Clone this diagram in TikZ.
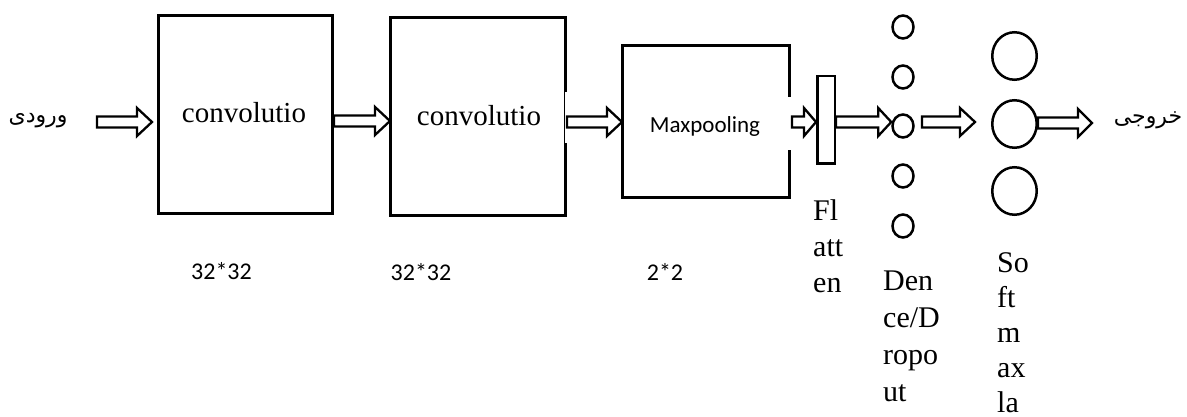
\documentclass[tikz,border=0pt]{standalone}
\usepackage{fontspec}
\usetikzlibrary{calc,shapes.geometric}
\TeXXeTstate=1
\newfontfamily\seriffont{Liberation Serif}
\newfontfamily\calibrifont{Carlito}
\newfontfamily\arabicfont[Script=Arabic]{DejaVu Sans}

% hollow block arrow between two named points (drawn at the height of the first)
\newcommand\blockarrow[3][15pt]{%
  \draw[blockarr] let \p1=(#2), \p2=(#3) in
    (\x1,\y1+5.5pt) -- (\x2-#1,\y1+5.5pt) -- (\x2-#1,\y1+14pt) -- (\x2,\y1)
    -- (\x2-#1,\y1-14pt) -- (\x2-#1,\y1-5.5pt) -- (\x1,\y1-5.5pt) -- cycle;}

\tikzset{
  layerbox/.style={draw, line width=3pt, fill=white, inner sep=0pt},
  neuron/.style={draw, ellipse, line width=2.5pt, inner sep=0pt},
  blockarr/.style={draw, line width=2.3pt, fill=white, line join=miter},
  convlbl/.style={font=\seriffont\fontsize{29}{34}\selectfont, anchor=base, inner sep=0pt},
  sizelbl/.style={font=\calibrifont\fontsize{24}{28}\selectfont, anchor=base, inner sep=0pt},
  vlbl/.style={font=\seriffont\fontsize{30}{36}\selectfont, anchor=base west, inner sep=0pt},
  arlbl/.style={font=\arabicfont\fontsize{22}{26}\selectfont, inner sep=0pt},
}

\begin{document}
\begin{tikzpicture}[x=1pt, y=-1pt]
\useasboundingbox (0,0) rectangle (1187,417);

% layers
\node[layerbox, minimum width=174pt, minimum height=198pt] (conv1) at (245.5,114.5) {};
\node[layerbox, minimum width=175pt, minimum height=198pt] (conv2) at (478,116.5) {};
\node[layerbox, minimum width=167pt, minimum height=152pt] (pool) at (706,121.5) {};
\node[layerbox, line width=2.5pt, minimum width=17.5pt, minimum height=87.5pt] (flat) at (826,120) {};

% dense / dropout neurons
\foreach \yy [count=\i] in {27,77,126,176,226}
  \node[neuron, minimum width=21pt, minimum height=23pt] (d\i) at (903,\yy) {};

% softmax neurons
\foreach \yy [count=\i] in {56,124,191}
  \node[neuron, minimum width=44.5pt, minimum height=47.5pt] (s\i) at (1014.5,\yy) {};

% texts inside the layers
\node[convlbl] (c1txt) at (244,123) {convolutio};
\node[convlbl] (c2txt) at (479,126) {convolutio};
\node[font=\calibrifont\fontsize{23}{28}\selectfont, anchor=base, inner sep=0pt] (ptxt) at (705,133) {Maxpooling};

% sizes under the layers
\node[sizelbl] (sz1) at (221.5,279) {32*32};
\node[sizelbl] (sz2) at (421,280) {32*32};
\node[sizelbl] (sz3) at (665,280) {2*2};

% stacked layer names
\foreach \t [count=\i] in {Fl,att,en}
  \node[vlbl] (fl\i) at (813,{220+36*(\i-1)}) {\t};
\foreach \t [count=\i] in {Den,ce/D,ropo,ut}
  \node[vlbl] (dn\i) at (883,{290+37*(\i-1)}) {\t};
\foreach \t [count=\i] in {So,ft,m,ax,la}
  \node[vlbl] (sm\i) at (997,{272+35*(\i-1)}) {\t};

% input and output
\node[arlbl] (inp) at (38,121) {\beginR ورودی\endR};
\node[arlbl] (outp) at (1148,120) {\beginR خروجی\endR};

% arrow end points
\coordinate (a0s) at (97,122);
\coordinate (a0e) at (152,122);
\coordinate (a1s) at (conv1.east |- 0,121);
\coordinate (a1e) at (390,121);
\coordinate (a2s) at (conv2.east |- 0,122);
\coordinate (a2e) at (622,122);
\coordinate (a3s) at (792,122);
\coordinate (a3e) at (flat.west |- 0,122);
\coordinate (a4s) at (flat.east |- 0,122);
\coordinate (a4e) at (d3.west |- 0,122);
\coordinate (a5s) at (922,122);
\coordinate (a5e) at (975,122);
\coordinate (a6s) at (s2.east |- 0,123);
\coordinate (a6e) at (1092,123);

% openings in the right edges where the arrows leave
\fill[white] (565,92) rectangle (570,143);
\fill[white] (788,97) rectangle (793,150);

\blockarrow{a0s}{a0e}
\blockarrow{a1s}{a1e}
\blockarrow{a2s}{a2e}
\blockarrow[12pt]{a3s}{a3e}
\blockarrow[13pt]{a4s}{a4e}
\blockarrow{a5s}{a5e}
\blockarrow[14pt]{a6s}{a6e}
\end{tikzpicture}
\end{document}
